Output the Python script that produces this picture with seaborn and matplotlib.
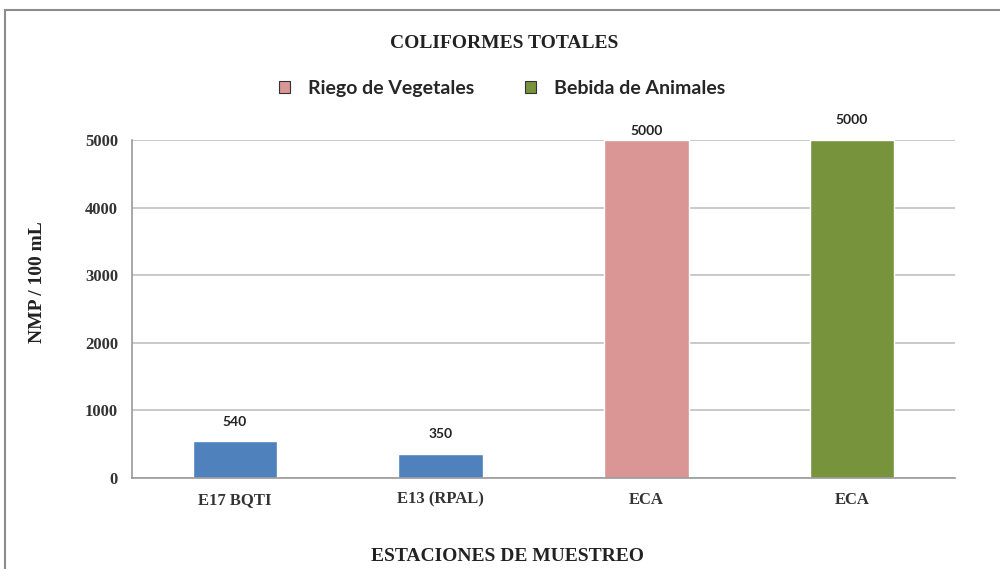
import pandas as pd
import matplotlib.pyplot as plt
import matplotlib.patches as mpatches
import seaborn as sns

# data
stations = ['E17 BQTI', 'E13 (RPAL)', 'ECA', 'ECA']
values = [540, 350, 5000, 5000]
bar_colors = ['#4F81BD', '#4F81BD', '#D99694', '#77933C']
legend_labels = ['Riego de Vegetales', 'Bebida de Animales']
legend_colors = ['#D99694', '#77933C']

df = pd.DataFrame({'pos': [str(i) for i in range(len(stations))],
                   'station': stations, 'value': values})

sns.set_style('white')
serif = ['Liberation Serif', 'DejaVu Serif']
sans = ['Lato', 'DejaVu Sans']

fig = plt.figure(figsize=(10, 5.69), dpi=100)
ax = fig.add_axes([0.132, 0.160, 0.823, 0.594])

sns.barplot(data=df, x='pos', y='value', hue='pos', palette=bar_colors,
            width=0.41, legend=False, ax=ax, saturation=1)

ax.set_ylim(0, 5000)
ax.set_xlim(-0.5, len(stations) - 0.5)
ax.set_yticks([0, 1000, 2000, 3000, 4000, 5000])
ax.yaxis.grid(True, color='#c0c0c0', linewidth=1.2)
ax.set_axisbelow(True)
ax.set_xticks(range(len(stations)))
ax.set_xticklabels(stations)
ax.set_xticks([i - 0.5 for i in range(len(stations) + 1)], minor=True)
ax.tick_params(axis='x', which='major', length=0, pad=10)
ax.tick_params(axis='x', which='minor', length=5, color='#9a9a9a', direction='out')
ax.tick_params(axis='y', length=5, color='#9a9a9a', direction='out', pad=5)
for lab in ax.get_xticklabels() + ax.get_yticklabels():
    lab.set_family(serif)
    lab.set_fontweight('bold')
    lab.set_fontsize(12)
    lab.set_color('#333333')

for side in ['top', 'right']:
    ax.spines[side].set_visible(False)
for side in ['left', 'bottom']:
    ax.spines[side].set_color('#9a9a9a')
    ax.spines[side].set_linewidth(1.2)

offsets = [10, 10, 2, 10]
for i, (v, off) in enumerate(zip(values, offsets)):
    ax.annotate(str(v), (i, v), xytext=(0, off), textcoords='offset points',
                ha='center', va='bottom', fontsize=10, fontweight='bold',
                family=sans, color='#222222')

ax.set_xlabel('ESTACIONES DE MUESTREO', family=serif, fontweight='bold',
              fontsize=14, color='#222222')
ax.xaxis.set_label_coords(0.456, -0.207)
ax.set_ylabel('NMP / 100 mL', family=serif, fontweight='bold',
              fontsize=14, color='#222222')
ax.yaxis.set_label_coords(-0.104, 0.58)

fig.text(0.504, 0.924, 'COLIFORMES TOTALES', ha='center', va='center',
         family=serif, fontweight='bold', fontsize=14, color='#222222')

handles = [mpatches.Patch(facecolor=c, edgecolor='#333333', linewidth=0.8, label=l)
           for l, c in zip(legend_labels, legend_colors)]
fig.legend(handles=handles, loc='center', bbox_to_anchor=(0.502, 0.845), ncol=2,
           frameon=False, handlelength=0.6, handleheight=0.6, handletextpad=0.9,
           columnspacing=2.6, prop={'family': sans, 'weight': 'bold', 'size': 14})

# outer chart frame
fig.patches.append(mpatches.Rectangle((0.005, -0.05), 1.1, 1.033, transform=fig.transFigure,
                                      fill=False, edgecolor='#8c8c8c', linewidth=1.5))

fig.savefig('out.png', dpi=100)
